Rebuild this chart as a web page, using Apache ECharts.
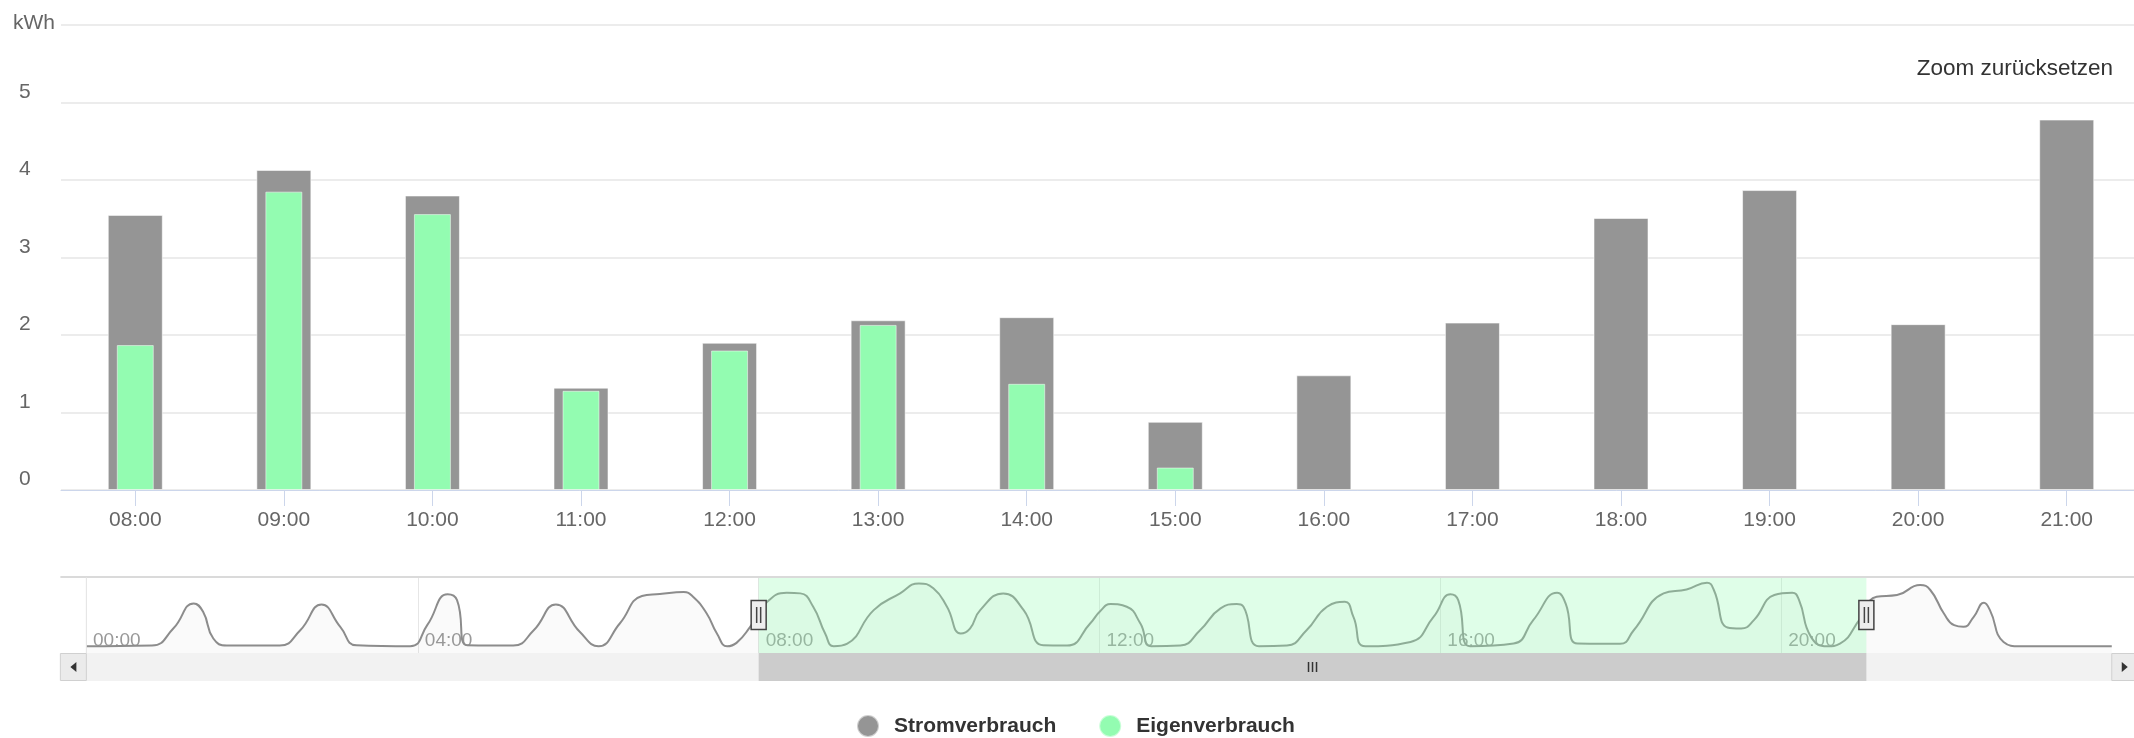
<!DOCTYPE html>
<html>
<head>
<meta charset="utf-8">
<title>Stromverbrauch</title>
<script src="https://cdn.jsdelivr.net/npm/echarts@6/dist/echarts.min.js"></script>
<style>
  html, body { margin: 0; padding: 0; background: #ffffff; }
  #chart { width: 2134px; height: 738px; }
</style>
</head>
<body>
<div id="chart"></div>
<script>
// Hourly consumption (kWh) for the zoomed window
const categories = ['08:00', '09:00', '10:00', '11:00', '12:00', '13:00', '14:00',
                    '15:00', '16:00', '17:00', '18:00', '19:00', '20:00', '21:00'];
const stromverbrauch = [3.55, 4.13, 3.80, 1.32, 1.90, 2.19, 2.23, 0.88, 1.48, 2.16, 3.51, 3.87, 2.14, 4.78];
const eigenverbrauch = [1.87, 3.85, 3.56, 1.28, 1.80, 2.13, 1.37, 0.29, null, null, null, null, null, null];
const yTicks = [0, 1, 2, 3, 4, 5, 6];

// Whole-day load profile shown in the navigator (hour of day, load)
const navHours = [0.11, 0.88, 1.13, 1.37, 1.48, 1.60, 1.76, 2.38, 2.62, 2.87, 3.09, 3.28, 3.91, 4.11, 4.35, 4.46,
  4.58, 5.12, 5.36, 5.62, 5.90, 6.12, 6.37, 6.63, 6.84, 7.12, 7.23, 7.39, 7.51, 7.63, 7.74, 7.90, 8.10, 8.33,
  8.49, 8.64, 8.78, 8.88, 9.04, 9.35, 9.66, 9.88, 10.05, 10.21, 10.37, 10.48, 10.60, 10.87, 11.11, 11.34, 11.62,
  11.89, 12.01, 12.13, 12.32, 12.48, 12.61, 12.95, 13.18, 13.42, 13.61, 13.69, 13.87, 14.20, 14.43, 14.67, 14.88,
  14.98, 15.12, 15.65, 15.92, 16.12, 16.21, 16.35, 16.86, 17.09, 17.37, 17.47, 17.61, 18.11, 18.27, 18.62, 18.89,
  19.13, 19.21, 19.37, 19.53, 19.68, 19.92, 20.13, 20.21, 20.35, 20.54, 20.69, 20.93, 21.12, 21.36, 21.63, 21.75,
  21.91, 22.03, 22.14, 22.26, 22.38, 22.45, 22.61, 22.81, 23.88];
const navValues = [0, 0.06, 1.47, 3.56, 2.86, 0.64, 0.06, 0.06, 1.33, 3.47, 1.61, 0.08, 0, 1.75, 4.31, 3.83,
  0.08, 0.06, 1.33, 3.47, 1.20, 0, 1.89, 4.17, 4.33, 4.50, 4.11, 2.72, 1.06, 0, 0.28, 1.61, 3.69, 4.44,
  4.39, 3.28, 1.06, 0, 0.22, 3.00, 4.39, 5.22, 4.81, 3.28, 1.06, 1.47, 3.00, 4.39, 3.00, 0.08, 0.06,
  1.89, 2.93, 3.50, 3.28, 1.89, 0, 0.06, 1.33, 3.14, 3.50, 3.28, 0, 0.06, 1.33, 3.28, 3.69,
  2.44, 0, 0.36, 2.44, 4.31, 3.83, 0, 0.22, 2.17, 4.44, 3.56, 0.22, 0.20, 1.33, 4.39, 4.72,
  5.28, 4.67, 1.56, 1.47, 2.17, 4.25, 4.44, 3.83, 0.78, 0, 0.22, 2.31, 4.11, 4.25, 5.08, 4.67,
  2.72, 1.75, 1.61, 2.44, 3.61, 3.00, 0.36, 0, 0];
const navTickHours = [0, 4, 8, 12, 16, 20, 24];

const GRAY = '#959595';
const GREEN = '#93fcb1';
const FONT = '"Liberation Sans", Arial, Helvetica, sans-serif';

// selected window in the navigator follows the displayed categories
const selStart = parseInt(categories[0], 10);
const selEnd = parseInt(categories[categories.length - 1], 10);

function pad2(n) { return (n < 10 ? '0' : '') + n; }

function renderSelection(params, api) {
  const cs = params.coordSys;
  const x0 = api.coord([api.value(0), 0])[0];
  const x1 = api.coord([api.value(1), 0])[0];
  return {
    type: 'rect',
    shape: { x: x0, y: cs.y, width: x1 - x0, height: cs.height },
    style: { fill: 'rgba(148,253,178,0.3)' }
  };
}

function renderNavigatorChrome(params, api) {
  const cs = params.coordSys;
  const xL = api.coord([api.value(0), 0])[0];
  const xR = api.coord([api.value(1), 0])[0];
  const xs = api.coord([api.value(2), 0])[0];
  const xe = api.coord([api.value(3), 0])[0];
  const top = cs.y;
  const bottom = cs.y + cs.height;
  const sbH = 28;
  const btnW = 26;
  const midY = bottom + sbH / 2;
  const cy = (top + bottom) / 2;
  const c = [];

  // scrollbar track and thumb
  c.push({ type: 'rect', shape: { x: xL, y: bottom, width: xR - xL, height: sbH }, style: { fill: '#f2f2f2' } });
  c.push({ type: 'rect', shape: { x: xs, y: bottom, width: xe - xs, height: sbH }, style: { fill: '#cccccc' } });
  const gx = (xs + xe) / 2;
  [-4, 0, 4].forEach(function (d) {
    c.push({ type: 'line', shape: { x1: gx + d, y1: midY - 5, x2: gx + d, y2: midY + 5 },
             style: { stroke: '#333333', lineWidth: 1.5 } });
  });

  // scroll buttons with arrows
  c.push({ type: 'rect', shape: { x: xL - btnW, y: bottom + 0.5, width: btnW, height: sbH - 1 },
           style: { fill: '#ebebeb', stroke: '#d0d0d0', lineWidth: 1 } });
  c.push({ type: 'rect', shape: { x: xR, y: bottom + 0.5, width: btnW, height: sbH - 1 },
           style: { fill: '#ebebeb', stroke: '#d0d0d0', lineWidth: 1 } });
  const lc = xL - btnW / 2;
  const rc = xR + btnW / 2;
  c.push({ type: 'polygon', shape: { points: [[lc + 3, midY - 5], [lc + 3, midY + 5], [lc - 3, midY]] },
           style: { fill: '#333333' } });
  c.push({ type: 'polygon', shape: { points: [[rc - 3, midY - 5], [rc - 3, midY + 5], [rc + 3, midY]] },
           style: { fill: '#333333' } });

  // navigator outline
  c.push({ type: 'line', shape: { x1: xL - btnW, y1: top, x2: xR + btnW + 20, y2: top },
           style: { stroke: '#dadada', lineWidth: 2 } });
  c.push({ type: 'line', shape: { x1: xL, y1: top, x2: xL, y2: bottom },
           style: { stroke: '#e3e3e3', lineWidth: 1 } });

  // range handles
  [xs, xe].forEach(function (x) {
    c.push({ type: 'rect', shape: { x: x - 7.5, y: cy - 14.5, width: 15, height: 29 },
             style: { fill: '#eeeeee', stroke: '#444444', lineWidth: 1.5 } });
    c.push({ type: 'line', shape: { x1: x - 2, y1: cy - 8, x2: x - 2, y2: cy + 8 },
             style: { stroke: '#444444', lineWidth: 1.5 } });
    c.push({ type: 'line', shape: { x1: x + 2, y1: cy - 8, x2: x + 2, y2: cy + 8 },
             style: { stroke: '#444444', lineWidth: 1.5 } });
  });
  return { type: 'group', children: c };
}

const chart = echarts.init(document.getElementById('chart'), null, { renderer: 'canvas' });

chart.setOption({
  backgroundColor: '#ffffff',
  animation: false,
  textStyle: { fontFamily: FONT },
  title: [
    { text: 'kWh', left: 13, top: 13, padding: 0,
      textStyle: { fontFamily: FONT, fontSize: 21, fontWeight: 'normal', color: '#666666' } },
    { text: 'Zoom zurücksetzen', right: 21, top: 57, padding: 0,
      textStyle: { fontFamily: FONT, fontSize: 22.5, fontWeight: 'normal', color: '#333333' } }
  ],
  legend: {
    data: ['Stromverbrauch', 'Eigenverbrauch'],
    left: 856,
    top: 714,
    padding: 0,
    icon: 'circle',
    itemWidth: 22,
    itemHeight: 22,
    itemGap: 42,
    textStyle: { fontFamily: FONT, fontSize: 21, fontWeight: 'bold', color: '#333333', padding: [0, 0, 0, 10] }
  },
  grid: [
    { left: 61, right: -7, top: 25, bottom: 248, outerBoundsMode: 'none' },
    { left: 77, right: 12, top: 577, bottom: 85, outerBoundsMode: 'none' }
  ],
  xAxis: [
    {
      type: 'category', gridIndex: 0, data: categories,
      axisLine: { lineStyle: { color: '#ccd6eb', width: 1 } },
      axisTick: { show: true, alignWithLabel: true, length: 16, lineStyle: { color: '#ccd6eb' } },
      axisLabel: { interval: 0, margin: 20, fontFamily: FONT, fontSize: 21, color: '#666666' },
      splitLine: { show: false }
    },
    {
      type: 'category', gridIndex: 0, data: categories, show: false
    },
    {
      type: 'value', gridIndex: 1, min: navTickHours[0], max: navTickHours[navTickHours.length - 1], interval: 4,
      axisLine: { show: false },
      axisTick: { show: false },
      splitLine: { show: true, showMinLine: false, showMaxLine: false, lineStyle: { color: '#e6e6e6', width: 1 } },
      axisLabel: {
        inside: true, margin: 3, align: 'left', showMaxLabel: false,
        fontFamily: FONT, fontSize: 19, color: '#999999', padding: [0, 0, 0, 7],
        formatter: function (v) {
          const t = pad2(v) + ':00';
          return v === 0 ? '{first|' + t + '}' : t;
        },
        rich: { first: { padding: [0, 0, 0, 9], fontFamily: FONT, fontSize: 19, color: '#999999' } }
      }
    }
  ],
  yAxis: [
    {
      type: 'value', gridIndex: 0, min: yTicks[0], max: yTicks[yTicks.length - 1], interval: 1,
      axisLine: { show: false },
      axisTick: { show: false },
      splitLine: { show: true, lineStyle: { color: '#e6e6e6', width: 1.5 } },
      axisLabel: {
        align: 'left', verticalAlign: 'bottom', margin: 42,
        fontFamily: FONT, fontSize: 21, color: '#666666',
        formatter: function (v) { return v === yTicks[yTicks.length - 1] ? '' : String(v); }
      }
    },
    {
      type: 'value', gridIndex: 1, min: -0.56, max: 5.75, show: false
    }
  ],
  series: [
    {
      name: 'Stromverbrauch', type: 'bar', xAxisIndex: 0, yAxisIndex: 0,
      data: stromverbrauch, barWidth: 55, z: 2,
      itemStyle: { color: GRAY, borderColor: 'rgba(255,255,255,0.55)', borderWidth: 1 }
    },
    {
      name: 'Eigenverbrauch', type: 'bar', xAxisIndex: 1, yAxisIndex: 0,
      data: eigenverbrauch, barWidth: 37, z: 3,
      itemStyle: { color: GREEN, borderColor: 'rgba(255,255,255,0.5)', borderWidth: 1 }
    },
    {
      name: 'Navigator', type: 'line', xAxisIndex: 2, yAxisIndex: 1,
      data: navHours.map(function (h, i) { return [h, navValues[i]]; }),
      smooth: 0.5, symbol: 'none', silent: true, z: 2,
      lineStyle: { color: '#8c8c8c', width: 2 },
      areaStyle: { color: 'rgba(150,150,150,0.06)', origin: 'start' }
    },
    {
      name: 'Auswahl', type: 'custom', xAxisIndex: 2, yAxisIndex: 1, silent: true, z: 3,
      data: [[selStart, selEnd]],
      renderItem: renderSelection
    },
    {
      name: 'Scrollbar', type: 'custom', xAxisIndex: 2, yAxisIndex: 1, silent: true, z: 4,
      data: [[navHours[0], navHours[navHours.length - 1], selStart, selEnd]],
      renderItem: renderNavigatorChrome
    }
  ]
});
</script>
</body>
</html>
